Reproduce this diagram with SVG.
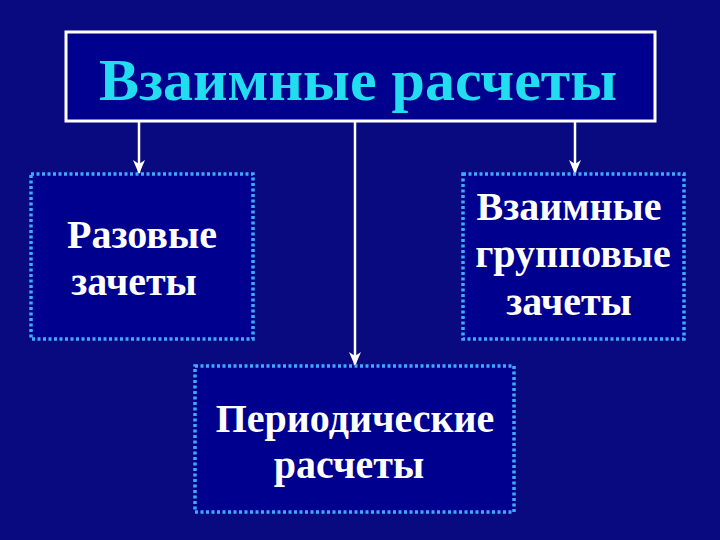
<svg xmlns="http://www.w3.org/2000/svg" width="720" height="540" viewBox="0 0 720 540">
<style>
.bg{fill:#0a0a80}
.main{fill:#00008e;stroke:#ffffff;stroke-width:3}
.sub{fill:#00008e;stroke:#3fa9ff;stroke-width:3.5;stroke-dasharray:3 2.5}
.title{font-family:"Liberation Serif",serif;font-weight:bold;font-size:60px;fill:#22ddf0;text-anchor:middle}
.lbl{font-family:"Liberation Serif",serif;font-weight:bold;font-size:40px;fill:#ffffff;text-anchor:middle}
.con{stroke:#ffffff;stroke-width:2.5;fill:none}
</style>
<defs>
<marker id="ah" viewBox="0 0 14 12" refX="13" refY="6" markerWidth="14" markerHeight="12" markerUnits="userSpaceOnUse" orient="auto">
<path d="M0,0 L4,6 L0,12 L14,6 Z" fill="#ffffff"/>
</marker>
</defs>
<rect class="bg" x="0" y="0" width="720" height="540"/>
<g id="connectors">
<line class="con" x1="139" y1="122" x2="139" y2="173" marker-end="url(#ah)"/>
<line class="con" x1="575" y1="122" x2="575" y2="173" marker-end="url(#ah)"/>
<line class="con" x1="355" y1="122" x2="355" y2="365" marker-end="url(#ah)"/>
</g>
<g id="node-main">
<rect class="main" x="66" y="32" width="589" height="89"/>
<text class="title" x="358" y="100">Взаимные расчеты</text>
</g>
<g id="node-razovye">
<rect class="sub" x="31" y="174" width="222" height="165"/>
<text class="lbl" x="142" y="248">Разовые</text>
<text class="lbl" x="134" y="295">зачеты</text>
</g>
<g id="node-gruppovye">
<rect class="sub" x="463" y="174" width="221" height="165"/>
<text class="lbl" x="569" y="220">Взаимные</text>
<text class="lbl" x="573" y="267">групповые</text>
<text class="lbl" x="569" y="315">зачеты</text>
</g>
<g id="node-periodicheskie">
<rect class="sub" x="195" y="366" width="319" height="146"/>
<text class="lbl" x="355" y="432">Периодические</text>
<text class="lbl" x="349" y="478">расчеты</text>
</g>
</svg>
